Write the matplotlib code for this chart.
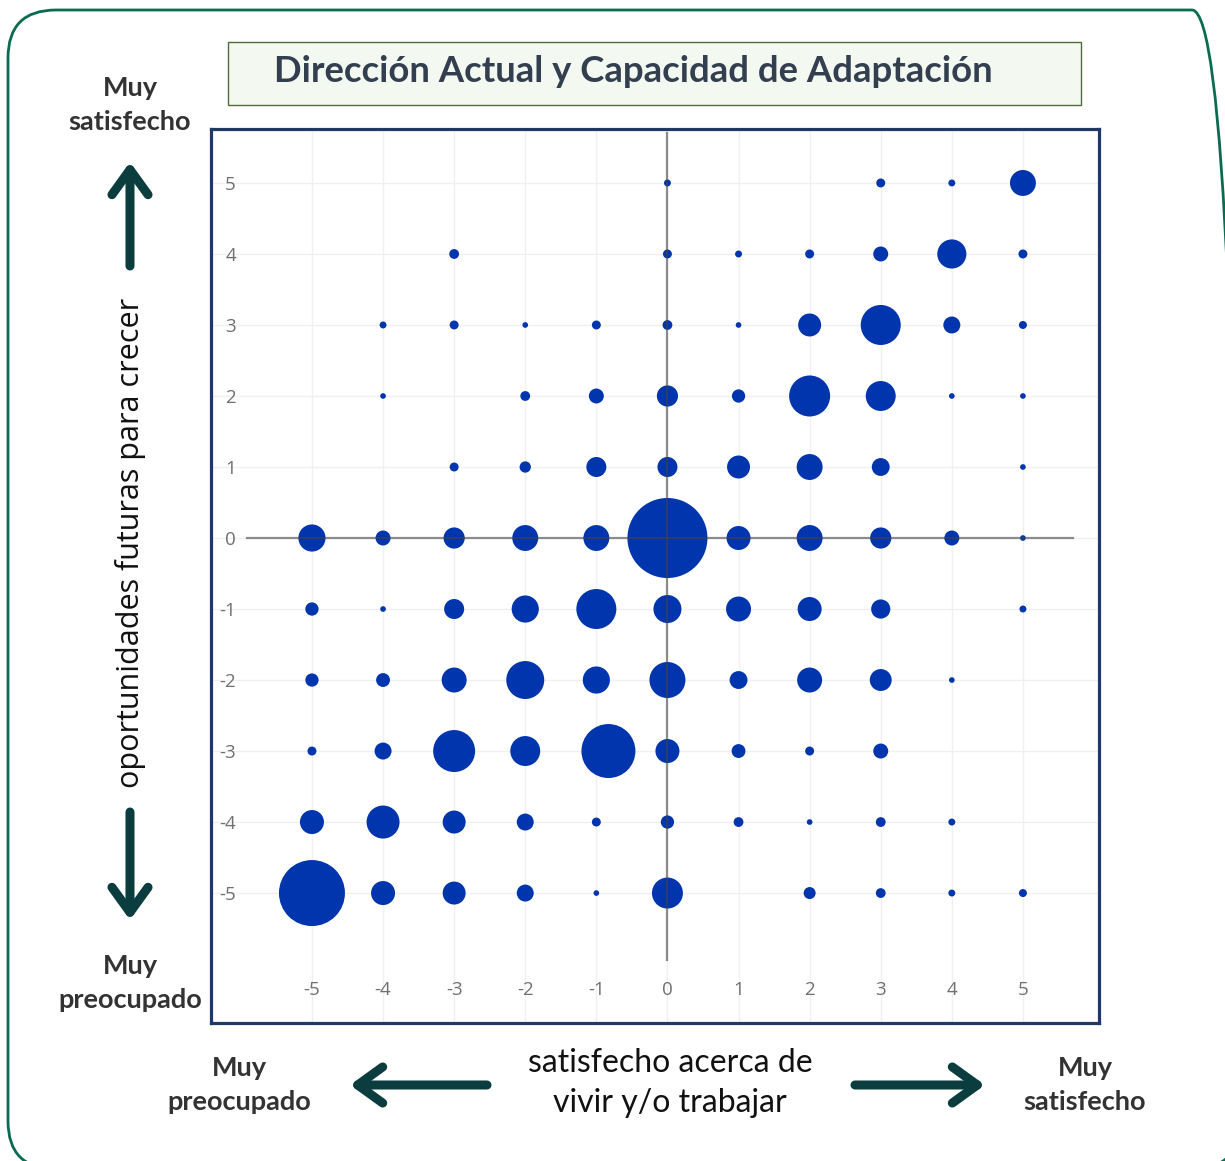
import numpy as np
import matplotlib
matplotlib.use("Agg")
import matplotlib.pyplot as plt
from matplotlib.patches import FancyBboxPatch, Rectangle
from matplotlib.transforms import IdentityTransform

# bubble data: position on both scales and the count (area of the bubble)
xs = [0, 3, 4, 5,
      -3, 0, 1, 2, 3, 4, 5,
      -4, -3, -2, -1, 0, 1, 2, 3, 4, 5,
      -4, -2, -1, 0, 1, 2, 3, 4, 5,
      -3, -2, -1, 0, 1, 2, 3, 5,
      -5, -4, -3, -2, -1, 0, 1, 2, 3, 4, 5,
      -5, -4, -3, -2, -1, 0, 1, 2, 3, 5,
      -5, -4, -3, -2, -1, 0, 1, 2, 3, 4,
      -5, -4, -3, -2, -0.83, 0, 1, 2, 3,
      -5, -4, -3, -2, -1, 0, 1, 2, 3, 4,
      -5, -4, -3, -2, -1, 0, 2, 3, 4, 5]
ys = [5] * 4 + [4] * 7 + [3] * 10 + [2] * 9 + [1] * 8 + [0] * 11 + \
     [-1] * 10 + [-2] * 10 + [-3] * 9 + [-4] * 10 + [-5] * 10
counts = [3, 5, 3, 42,
          6, 5, 3, 5, 14, 53, 5,
          3, 5, 2, 5, 6, 2, 33, 100, 18, 4,
          2, 6, 14, 28, 11, 105, 56, 2, 2,
          5, 8, 25, 25, 33, 42, 20, 2,
          46, 14, 28, 42, 42, 400, 36, 42, 28, 14, 2,
          11, 2, 25, 46, 100, 49, 39, 36, 23, 3,
          11, 12, 39, 90, 46, 81, 20, 39, 30, 2,
          5, 18, 110, 56, 182, 36, 12, 5, 14,
          36, 68, 33, 18, 5, 11, 6, 2, 6, 3,
          272, 36, 33, 18, 2, 60, 9, 6, 3, 4]
ticks = [-5, -4, -3, -2, -1, 0, 1, 2, 3, 4, 5]
tick_labels = ["-5", "-4", "-3", "-2", "-1", "0", "1", "2", "3", "4", "5"]

title = "Dirección Actual y Capacidad de Adaptación"
ylab = "oportunidades futuras para crecer"
xlab = "satisfecho acerca de\nvivir y/o trabajar"

W, H = 1225, 1161
fig = plt.figure(figsize=(W / 100, H / 100), dpi=100)

def px(x, y):
    return x / W, 1 - y / H

green = "#0b6b50"
arrow_col = "#0b3d3f"
text_col = "#333333"

# outer rounded frame, drawn in pixel units
frame = FancyBboxPatch((8, -8), 1232, H - 10 + 8,
                       boxstyle="round,pad=0,rounding_size=48",
                       transform=IdentityTransform(), fill=False,
                       edgecolor=green, linewidth=2.0)
fig.patches.append(frame)

# title box
tb = Rectangle(px(228, 105), (1081 - 228) / W, (105 - 42) / H,
               transform=fig.transFigure, facecolor="#f3f8f1",
               edgecolor="#4f6b3a", linewidth=1.0)
fig.patches.append(tb)
fig.text(*px(633, 71), title, ha="center", va="center", fontsize=26.3,
         fontweight="bold", color="#333f4f", family="Lato")

# plot area
ax = fig.add_axes([211 / W, 1 - 1023 / H, (1099 - 211) / W, (1023 - 129) / H])
ax.set_xlim(-6.42, 6.07)
ax.set_ylim(-6.83, 5.76)
ax.set_xticks(ticks, tick_labels)
ax.set_yticks(ticks, tick_labels)
ax.grid(True, color="#f0f0f0", linewidth=1.0, zorder=0)
ax.set_axisbelow(True)
ax.tick_params(length=0, labelsize=13.5, labelcolor="#707070")
ax.tick_params(axis="x", pad=-30)
ax.tick_params(axis="y", pad=-18)
for lbl in ax.get_xticklabels() + ax.get_yticklabels():
    lbl.set_family("Open Sans")
for sp in ax.spines.values():
    sp.set_color("#1f3864")
    sp.set_linewidth(2.3)

sizes = np.array(counts) * 8.3
ax.scatter(xs, ys, s=sizes, color="#0035ad", edgecolors="none", zorder=2)

ax.axhline(0, xmin=0.041, xmax=0.971, color="#444444", alpha=0.6,
           linewidth=1.6, zorder=3)
ax.axvline(0, ymin=0.070, ymax=0.996, color="#444444", alpha=0.6,
           linewidth=1.6, zorder=3)

# side labels
bold = dict(ha="center", va="center", fontsize=19.5, fontweight="bold",
            color=text_col, family="Lato", linespacing=1.55)
fig.text(*px(130, 105), "Muy\nsatisfecho", **bold)
fig.text(*px(130, 983), "Muy\npreocupado", **bold)
fig.text(*px(239, 1085), "Muy\npreocupado", **bold)
fig.text(*px(1085, 1085), "Muy\nsatisfecho", **bold)

fig.text(*px(130, 543), ylab, rotation=90, ha="center", va="center",
         fontsize=22, color="#111111", family="Open Sans")
fig.text(*px(670, 1083), xlab, ha="center", va="center", fontsize=23,
         color="#111111", family="Lato", linespacing=1.45)

# arrows
arr = dict(arrowstyle="->,head_length=1.8,head_width=1.3", color=arrow_col,
           linewidth=6.5, shrinkA=0, shrinkB=0)
def arrow(x0, y0, x1, y1):
    ax.annotate("", xy=px(x1, y1), xytext=px(x0, y0), xycoords="figure fraction",
                textcoords="figure fraction", arrowprops=arr, annotation_clip=False)

arrow(130, 266, 130, 162)
arrow(130, 812, 130, 920)
arrow(487, 1085, 350, 1085)
arrow(855, 1085, 985, 1085)

fig.savefig("out.png", dpi=100)
